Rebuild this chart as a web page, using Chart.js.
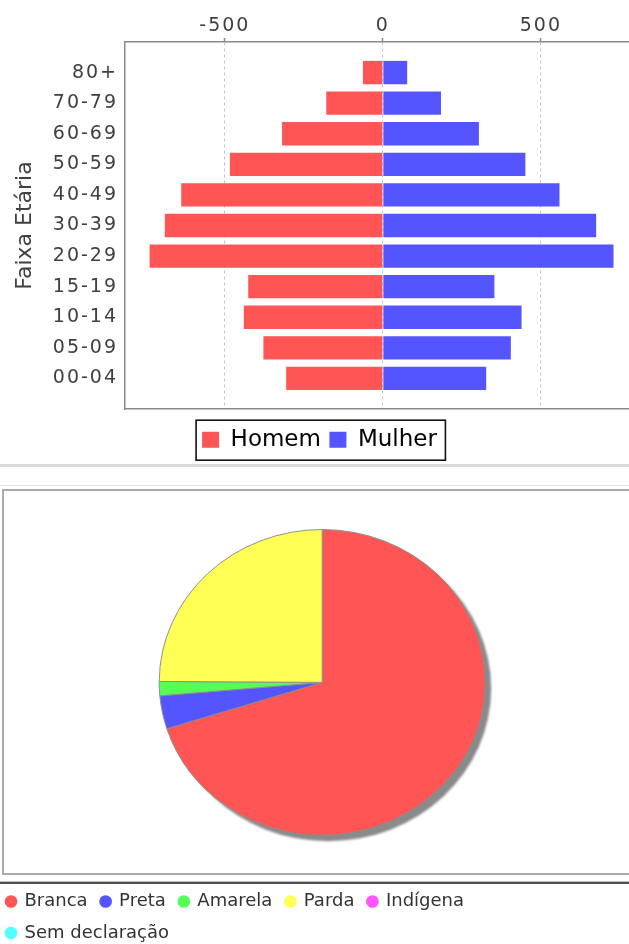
<!DOCTYPE html>
<html><head><meta charset="utf-8">
<script src="https://cdn.jsdelivr.net/npm/chart.js@4/dist/chart.umd.min.js"></script>
<style>
html,body{margin:0;padding:0;background:#fff;}
body{width:629px;height:944px;overflow:hidden;position:relative;}
canvas{position:absolute;z-index:1;}
.deco{position:absolute;z-index:0;box-sizing:border-box;}
</style></head><body>
<div class="deco" style="left:0;top:464px;width:629px;height:3px;background:#dcdcdc"></div>
<div class="deco" style="left:0;top:485px;width:629px;height:1px;background:#e2e2e2"></div>
<div class="deco" style="left:2px;top:489px;width:640px;height:386px;border:2px solid #a9a9a9;"></div>
<div class="deco" style="left:0;top:881px;width:629px;height:1px;background:#bdbdbd"></div>
<div class="deco" style="left:0;top:882px;width:629px;height:2px;background:#4f4f4f"></div>
<canvas id="pyr" width="629" height="470" style="left:0;top:0"></canvas>
<canvas id="pie" width="636" height="482" style="left:-7px;top:470px"></canvas>
<script>
// ---- Data ----
const faixas = ['80+','70-79','60-69','50-59','40-49','30-39','20-29','15-19','10-14','05-09','00-04'];
const homem  = [63, 179, 319, 484, 638, 690, 738, 426, 440, 378, 306];
const mulher = [77, 184, 304, 451, 559, 675, 730, 353, 439, 405, 327];
const serieNomes = ['Homem', 'Mulher'];
const xTicks = [-500, 0, 500];

const racas = ['Branca','Preta','Amarela','Parda','Indígena','Sem declaração'];
const racaValores = [70.1, 3.5, 1.5, 24.9, 0, 0];

// ---- Styles ----
const corHomem = '#ff5555', corMulher = '#5555ff';
const racaCores = ['#ff5555','#5555ff','#55ff55','#ffff55','#ff55ff','#55ffff'];

Chart.defaults.font.family = "'DejaVu Sans', sans-serif";

const tickSpacing = {
  id: 'tickSpacing',
  beforeDraw(chart) {
    for (const id of ['x', 'y']) {
      const s = chart.scales[id];
      if (s && !s._lsPatched) {
        const orig = s.drawLabels.bind(s);
        s.drawLabels = function (area) {
          const ctx = this.ctx; ctx.save(); ctx.letterSpacing = '2px'; orig(area); ctx.restore();
        };
        s._lsPatched = true;
      }
    }
  }
};

const legendBox = {
  id: 'legendBox',
  afterDraw(chart) {
    const lg = chart.legend; const hb = lg && lg.legendHitBoxes;
    if (!hb || !hb.length) return;
    const first = hb[0], last = hb[hb.length - 1];
    const ctx = chart.ctx;
    const l = first.left - 6, r = last.left + last.width + 8.5;
    ctx.save(); ctx.strokeStyle = '#111'; ctx.lineWidth = 1.6;
    ctx.strokeRect(l, lg.top + 0.5, r - l, lg.height - 1.5);
    ctx.restore();
  }
};

new Chart(document.getElementById('pyr'), {
  type: 'bar',
  data: {
    labels: faixas,
    datasets: [
      { label: serieNomes[0], data: homem.map(v => -v), backgroundColor: corHomem, borderWidth: 0 },
      { label: serieNomes[1], data: mulher, backgroundColor: corMulher, borderWidth: 0 }
    ]
  },
  options: {
    responsive: false, animation: false, events: [],
    indexAxis: 'y',
    datasets: { bar: { barPercentage: 0.765, categoryPercentage: 1 } },
    layout: { autoPadding: false, padding: { left: 10, top: 0, right: 0, bottom: 8.8 } },
    scales: {
      x: {
        type: 'linear', position: 'top', stacked: true, min: -816, max: 779,
        ticks: { font: { size: 19 }, color: '#404040', padding: 1, maxRotation: 0 },
        grid: { color: '#c4c4c4', lineWidth: 1, drawTicks: true, tickLength: 4, tickColor: '#8a8a8a', tickWidth: 1.5 },
        border: { display: true, color: '#8a8a8a', width: 1.5, dash: [3, 3] },
        afterBuildTicks: s => { s.ticks = xTicks.map(v => ({ value: v })); },
        afterFit: s => { s.height = 42; }
      },
      x2: {
        type: 'linear', position: 'bottom', display: true,
        grid: { display: false, drawTicks: false }, ticks: { display: false },
        border: { display: true, color: '#8a8a8a', width: 1.5 },
        afterFit: s => { s.height = 10.7; }
      },
      y: {
        type: 'category', position: 'left', stacked: true,
        grid: { display: false, drawTicks: false },
        border: { display: true, color: '#8a8a8a', width: 1.5 },
        ticks: { font: { size: 19 }, color: '#404040', padding: 7, autoSkip: false },
        title: { display: true, text: 'Faixa Etária', font: { size: 22 }, color: '#404040', padding: { top: 2, bottom: 0 } },
        afterFit: s => { s.width = 115; },
        afterBuildTicks: s => { s._startValue -= 0.5; s._valueRange += 1; }
      }
    },
    plugins: {
      legend: { position: 'bottom', align: 'center',
        labels: { boxWidth: 17, boxHeight: 16, font: { size: 23 }, color: '#000', padding: 8.5 } },
      tooltip: { enabled: false }
    }
  },
  plugins: [tickSpacing, legendBox]
});

const ellipsePie = {
  id: 'ellipsePie',
  beforeDatasetsDraw(chart, args, opts) {
    const arc = chart.getDatasetMeta(0).data[0];
    if (!arc) return;
    const x = arc.x, y = arc.y, r = arc.outerRadius;
    const ctx = chart.ctx;
    const cx = x + opts.shiftX, sy = opts.scaleY;
    ctx.save();
    ctx.fillStyle = opts.shadowColor;
    ctx.filter = 'blur(1px)';
    ctx.beginPath();
    ctx.ellipse(cx + opts.shadow, y + opts.shadow, r, r * sy, 0, 0, Math.PI * 2);
    ctx.fill();
    ctx.restore();
    ctx.save();
    ctx.translate(cx, y); ctx.scale(1, sy); ctx.translate(-x, -y);
  },
  afterDatasetsDraw(chart) { chart.ctx.restore(); }
};

new Chart(document.getElementById('pie'), {
  type: 'pie',
  data: {
    labels: racas,
    datasets: [{ data: racaValores, backgroundColor: racaCores, borderColor: '#8c8c8c', borderWidth: 1, radius: 163 }]
  },
  options: {
    responsive: false, animation: false, events: [],
    layout: { padding: { left: 0, right: 0, top: 15.8, bottom: 0 } },
    plugins: {
      legend: {
        position: 'bottom', align: 'start',
        labels: {
          boxWidth: 9, boxHeight: 9, usePointStyle: true, pointStyle: 'circle',
          font: { size: 18 }, color: '#333', padding: 13.5,
          generateLabels: chart => chart.data.labels.map((t, i) => ({
            text: t, fillStyle: racaCores[i], strokeStyle: racaCores[i], lineWidth: 0,
            pointStyle: 'circle', hidden: false, index: i, fontColor: '#333'
          }))
        }
      },
      tooltip: { enabled: false },
      ellipsePie: { shiftX: 11.2, scaleY: 0.938, shadow: 6, shadowColor: '#8a8a8a' }
    }
  },
  plugins: [ellipsePie]
});
</script>
</body></html>
